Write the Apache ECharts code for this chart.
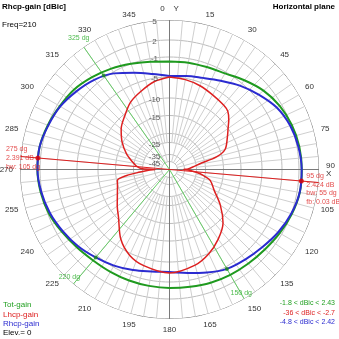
<!DOCTYPE html>
<html><head><meta charset="utf-8">
<script src="https://cdn.jsdelivr.net/npm/echarts/dist/echarts.min.js"></script>
<style>html,body{margin:0;padding:0;background:#fff}#c{width:339px;height:339px}</style>
</head><body><div id="c"></div>
<script>
// ---------- data ----------
const curveAngles = [0,10,20,30,40,50,60,70,80,90,100,110,120,130,140,150,160,170,180,190,200,210,220,230,240,250,260,270,280,290,300,310,320,330,340,350];
const totGain  = [-1.9,-1.8,-1.7,-1.3,-0.3,0.8,1.6,2.1,2.35,2.42,2.42,2.1,1.6,1.1,0.8,0.6,0.4,0.15,0.05,0.0,0.0,0.0,0.1,0.5,1.1,1.8,2.2,2.39,2.35,2.0,1.5,1.1,0.4,-0.3,-1.0,-1.6];
const rhcpGain = [-4.8,-4.5,-4.0,-3.0,-1.6,-0.3,1.0,1.8,2.2,2.4,2.4,2.0,1.3,0.5,-0.1,-0.6,-1.6,-2.5,-3.0,-2.8,-2.1,-1.3,-0.6,0.2,0.9,1.6,2.1,2.38,2.35,1.9,1.4,0.6,-0.2,-1.3,-2.9,-4.1];

const lhcpAngles = [0,10,20,30,40,45,50,55,60,70,75,79,84,88,90,92,96,100,105,115,125,135,145,155,165,180,195,205,215,227,235,245,252,258,262,265,268,270,272,276,282,290,300,310,320,330,340,350];
const lhcpGain   = [-5.0,-5.3,-5.8,-6.5,-7.0,-7.4,-8.6,-10.0,-11.3,-13.5,-16.5,-22.5,-28,-32,-36,-31,-25,-21,-18.3,-16.3,-12.7,-9.0,-6.8,-4.9,-3.7,-2.8,-3.6,-4.6,-6.8,-10.5,-12.2,-14.0,-14.8,-15.2,-18,-23.6,-30,-36,-24,-21.5,-19.4,-17.3,-14.8,-12.4,-10.5,-8.5,-7.2,-5.8];

const gridDb     = [5,2,-1,-5,-10,-15,-20,-25,-35,-45];
const gridLabels = ['5','2','-1','-5','-10','-15','','-25','-35','-45'];

const markerAngles = [95,275];
const markerGains  = [2.424,2.391];
const markerBw     = [55,105];
const fbRatio      = 0.03;

const bwAngles = [325,220,150];
const bwGain   = -0.6;

const rangeNames = ['Tot-gain','Lhcp-gain','Rhcp-gain'];
const rangeMin   = [-1.8,-36,-4.8];
const rangeMax   = [2.43,-2.7,2.42];
const freq = 210;
const elev = 0;

// ---------- scale (style: radius in px for each dB breakpoint) ----------
const SCALE_DB = [5,2,-1,-5,-10,-15,-20,-25,-35,-45,-60];
const SCALE_PX = [149.5,129.5,112.5,92.5,71.5,54,36,27,15,8,0];
const R = 149.5;
function toR(db){
  if (db >= SCALE_DB[0]) return SCALE_PX[0]/R;
  for (let i=0;i<SCALE_DB.length-1;i++){
    const a=SCALE_DB[i], b=SCALE_DB[i+1];
    if (db<=a && db>=b){
      const t=(a-db)/(a-b);
      return (SCALE_PX[i]+(SCALE_PX[i+1]-SCALE_PX[i])*t)/R;
    }
  }
  return 0;
}
function curve(angles, gains){
  const d = angles.map((a,i)=>[toR(gains[i]), a]);
  d.push([toR(gains[0]), angles[0]+360]);
  return d;
}

const COL_TOT='#1f9a1f', COL_L='#dd2020', COL_R='#2b2bd0', COL_BW='#66cc66';
const FONT='Liberation Sans, Arial, sans-serif';

const series = [];
gridDb.forEach((db,i)=>{
  const d=[]; for(let a=0;a<=360;a+=2) d.push([toR(db),a]);
  series.push({type:'line',coordinateSystem:'polar',data:d,symbol:'none',silent:true,z:1,
    lineStyle:{color: i===0?'#6a6a6a':'#bdbdbd',width:1}});
});
for(let a=0;a<360;a+=5){
  if(a%90===0) continue;
  const rin = a%15===0 ? toR(-45) : toR(-25);
  series.push({type:'line',coordinateSystem:'polar',data:[[rin,a],[1,a]],symbol:'none',silent:true,z:1,
    lineStyle:{color:'#cfcfcf',width:1}});
}
series.push({type:'line',coordinateSystem:'polar',clip:false,data:[[1.1,0],[1.0,180]],symbol:'none',silent:true,z:2,lineStyle:{color:'#7a7a7a',width:1}});
series.push({type:'line',coordinateSystem:'polar',clip:false,data:[[1.07,270],[1.0,90]],symbol:'none',silent:true,z:2,lineStyle:{color:'#7a7a7a',width:1}});
series.push({type:'scatter',coordinateSystem:'polar',data:gridDb.map(db=>[toR(db),0]),symbolSize:1,z:5,
  itemStyle:{color:'rgba(0,0,0,0)'},
  label:{show:true,position:'inside',offset:[-15,2],formatter:p=>gridLabels[p.dataIndex],fontSize:8,color:'#333',fontFamily:FONT}});
bwAngles.forEach(a=>{
  series.push({type:'line',coordinateSystem:'polar',data:[[0,a],[1,a]],symbol:'none',silent:true,z:3,lineStyle:{color:COL_BW,width:1}});
});
series.push({type:'line',coordinateSystem:'polar',clip:false,data:[[1.14,markerAngles[1]],[1.02,markerAngles[0]]],symbol:'none',silent:true,z:3,lineStyle:{color:COL_L,width:1}});
series.push({type:'line',coordinateSystem:'polar',data:curve(curveAngles,totGain),symbol:'none',smooth:0.35,z:4,lineStyle:{color:COL_TOT,width:2}});
series.push({type:'line',coordinateSystem:'polar',data:curve(curveAngles,rhcpGain),symbol:'none',smooth:0.35,z:4,lineStyle:{color:COL_R,width:2}});
series.push({type:'line',coordinateSystem:'polar',data:curve(lhcpAngles,lhcpGain),symbol:'none',smooth:0.3,z:4,lineStyle:{color:COL_L,width:1.5}});
series.push({type:'scatter',coordinateSystem:'polar',data:bwAngles.map(a=>[toR(bwGain),a]),symbolSize:4,z:6,itemStyle:{color:'#1a8a1a'}});
series.push({type:'scatter',coordinateSystem:'polar',clip:false,data:bwAngles.map(a=>[1,a]),symbolSize:1,z:6,
  itemStyle:{color:'rgba(0,0,0,0)'},
  label:{show:true,position:'inside',formatter:p=>bwAngles[p.dataIndex]+' dg',fontSize:7,color:'#22aa22',fontFamily:FONT},
  labelLayout:p=>{const o=[[-5,-9],[-4,-7],[-3,-6]][p.dataIndex];return {dx:o[0],dy:o[1]};}});
series.push({type:'scatter',coordinateSystem:'polar',data:markerAngles.map((a,i)=>[toR(markerGains[i]),a]),symbolSize:5,z:7,
  itemStyle:{color:'#e00000'},
  label:{show:true,fontSize:7,color:COL_L,fontFamily:FONT,lineHeight:8.7,align:'left',verticalAlign:'middle',
    position:'inside',
    formatter:p=>{const i=p.dataIndex;let s=markerAngles[i]+' dg\n'+markerGains[i]+' dB\nbw: '+markerBw[i]+' dg';if(i===0)s+='\nfb: '+fbRatio.toFixed(2)+' dB';return s;}},
  labelLayout:p=>p.dataIndex===0?{dx:5,dy:8}:{dx:-32,dy:0}});

const chart = echarts.init(document.getElementById('c'),null,{renderer:'canvas'});
chart.setOption({
  animation:false,
  backgroundColor:'#fff',
  polar:{center:[169.5,169.5],radius:R},
  radiusAxis:{type:'value',min:0,max:1,axisLine:{show:false},axisTick:{show:false},axisLabel:{show:false},splitLine:{show:false}},
  angleAxis:{type:'value',min:0,max:360,interval:15,startAngle:90,clockwise:true,
    axisLine:{show:false},axisTick:{show:false},splitLine:{show:false},
    axisLabel:{margin:7,fontSize:8,color:'#333',fontFamily:FONT,
      formatter:v=>v===0?'0    Y':(v===90?'90\nX':(v===360?'':String(v)))}},
  series:series,
  graphic:[
    {type:'text',left:2,top:3,style:{text:'Rhcp-gain [dBic]',font:'bold 8px '+FONT,fill:'#000'}},
    {type:'text',left:2,top:21,style:{text:'Freq='+freq,font:'8px '+FONT,fill:'#000'}},
    {type:'text',right:4,top:3,style:{text:'Horizontal plane',font:'bold 8px '+FONT,fill:'#000'}},
    {type:'text',left:3,top:301,style:{text:rangeNames[0],font:'8px '+FONT,fill:'#22a022'}},
    {type:'text',left:3,top:311,style:{text:rangeNames[1],font:'8px '+FONT,fill:COL_L}},
    {type:'text',left:3,top:320,style:{text:rangeNames[2],font:'8px '+FONT,fill:COL_R}},
    {type:'text',left:3,top:329,style:{text:'Elev.= '+elev,font:'8px '+FONT,fill:'#000'}},
    {type:'text',right:4,top:300,style:{text:rangeMin[0]+' < dBic < '+rangeMax[0],font:'7px '+FONT,fill:'#22a022'}},
    {type:'text',right:4,top:310,style:{text:rangeMin[1]+' < dBic < '+rangeMax[1],font:'7px '+FONT,fill:COL_L}},
    {type:'text',right:4,top:319,style:{text:rangeMin[2]+' < dBic < '+rangeMax[2],font:'7px '+FONT,fill:COL_R}}
  ]
});
</script></body></html>
